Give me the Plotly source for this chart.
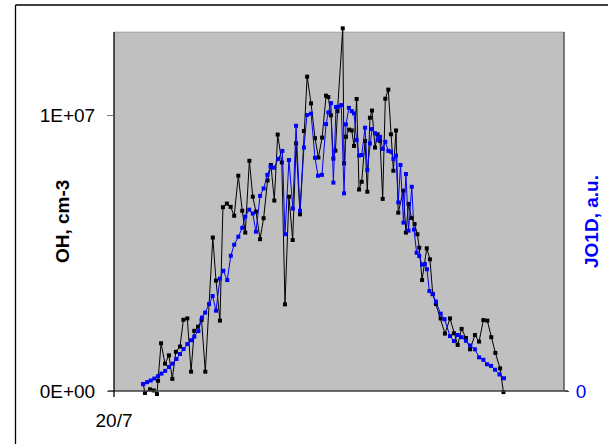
import plotly.graph_objects as go

# Time of day on 20/7 (hours)
oh_time = [1.56, 1.65, 1.92, 2.12, 2.29, 2.35, 2.51, 2.72, 2.93, 3.11, 3.30, 3.52, 3.70, 3.91,
           4.11, 4.28, 4.48, 4.67, 4.87, 5.27, 5.44, 5.65, 5.81, 6.02, 6.22, 6.41, 6.63, 6.84,
           7.00, 7.22, 7.40, 7.57, 7.79, 7.98, 8.19, 8.37, 8.55, 8.73, 8.95, 9.12, 9.33, 9.53,
           9.71, 9.92, 10.13, 10.30, 10.51, 10.72, 10.90, 11.10, 11.31, 11.43, 11.57, 11.70,
           11.81, 11.92, 12.20, 12.27, 12.37, 12.54, 12.68, 12.80, 12.94, 13.07, 13.21, 13.39,
           13.51, 13.65, 13.76, 13.92, 14.06, 14.19, 14.33, 14.47, 14.63, 14.77, 14.90, 15.04,
           15.16, 15.43, 15.57, 15.71, 15.87, 16.03, 16.18, 16.28, 16.43, 16.68, 16.85, 17.00,
           17.17, 17.42, 17.65, 17.92, 18.13, 18.33, 18.54, 18.77, 18.99, 19.25, 19.47, 19.70,
           19.91, 20.12, 20.34, 20.59, 20.77]
# OH concentration, 10^6 cm-3
oh_1e6 = [0.25, -0.07, 0.06, 0.02, -0.11, 0.37, 1.73, 0.99, 1.29, 0.44, 1.42, 1.61, 2.58, 2.63,
          0.70, 2.18, 2.33, 2.57, 0.70, 5.56, 4.00, 2.55, 6.66, 6.79, 6.67, 6.35, 7.80, 6.53,
          5.74, 8.34, 7.04, 6.50, 5.50, 6.26, 7.63, 8.19, 6.90, 9.29, 8.28, 3.14, 7.04, 5.47,
          8.97, 6.40, 9.42, 11.39, 10.42, 9.16, 8.46, 9.18, 10.70, 10.65, 9.99, 8.42,
          8.71, 10.14, 13.14, 8.25, 9.21, 9.47, 9.44, 8.88, 10.58, 7.30, 7.58, 9.06,
          7.22, 9.90, 10.16, 8.82, 9.30, 9.06, 6.96, 10.59, 10.92, 9.30, 7.98, 9.44,
          6.46, 7.26, 5.74, 6.78, 6.27, 6.05, 5.68, 5.19, 4.02, 5.17, 4.77, 3.51,
          3.15, 2.63, 2.08, 2.63, 2.09, 1.67, 2.25, 1.92, 1.51, 2.03, 1.79, 2.57,
          2.55, 1.95, 1.38, 0.82, -0.04]

jo1d_time = [1.55, 1.76, 1.96, 2.15, 2.35, 2.53, 2.73, 2.93, 3.12, 3.33, 3.52, 3.71, 3.91, 4.11,
             4.28, 4.50, 4.69, 4.86, 5.07, 5.26, 5.44, 5.65, 5.83, 6.04, 6.23, 6.41, 6.63, 6.84,
             7.00, 7.21, 7.40, 7.57, 7.79, 7.98, 8.18, 8.35, 8.53, 8.76, 8.98, 9.12, 9.33, 9.54,
             9.71, 9.92, 10.13, 10.29, 10.51, 10.72, 10.88, 11.09, 11.31, 11.43, 11.57, 11.70,
             11.84, 11.97, 12.12, 12.27, 12.37, 12.53, 12.68, 12.80, 12.94, 13.07, 13.21, 13.39,
             13.51, 13.65, 13.76, 13.92, 14.06, 14.19, 14.33, 14.47, 14.63, 14.77, 14.90, 15.04,
             15.16, 15.28, 15.44, 15.57, 15.71, 15.88, 16.00, 16.14, 16.28, 16.43, 16.58, 16.69,
             16.82, 17.00, 17.17, 17.42, 17.63, 17.92, 18.13, 18.33, 18.54, 18.77, 19.00, 19.25,
             19.47, 19.70, 19.89, 20.11, 20.32, 20.56, 20.80]
# J(O1D), arbitrary units
jo1d_au = [0.25, 0.32, 0.38, 0.45, 0.54, 0.63, 0.73, 0.87, 0.99, 1.16, 1.34, 1.52, 1.70, 1.84,
           1.97, 2.17, 2.66, 2.84, 3.15, 3.44, 2.91, 4.07, 4.36, 4.02, 4.90, 5.30, 5.59, 5.91,
           6.32, 6.57, 6.43, 5.77, 7.07, 7.34, 7.83, 8.13, 8.09, 8.41, 8.70, 5.68, 8.37, 6.61,
           9.61, 6.53, 8.82, 10.00, 10.05, 8.45, 7.80, 7.83, 9.67, 10.09, 10.43, 7.55,
           10.29, 10.30, 10.36, 7.16, 9.66, 10.26, 10.14, 10.06, 9.09, 8.53, 8.55, 9.54,
           8.01, 8.97, 9.49, 9.34, 9.09, 9.21, 8.77, 9.03, 8.70, 8.67, 8.41, 8.53,
           6.83, 8.19, 6.10, 7.86, 5.81, 7.40, 5.85, 5.01, 4.89, 4.58, 4.60, 4.41,
           3.62, 3.51, 3.24, 2.80, 2.60, 1.99, 1.81, 2.03, 1.95, 1.82, 1.65, 1.51,
           1.22, 1.13, 0.97, 0.91, 0.77, 0.60, 0.46]

x_ticks = [0]
x_tick_labels = ["20/7"]
oh_ticks = [0, 1e7]
oh_tick_labels = ["0E+00", "1E+07"]
jo1d_ticks = [0]
jo1d_tick_labels = ["0"]

OH_UNIT = 1e6
oh = [v * OH_UNIT for v in oh_1e6]

# Figure geometry (pixels)
W, H = 608, 444
L, R, T, B = 114, 564, 26, 398
PX_PER_UNIT = 27.6          # pixels per 10^6 cm-3
ZERO_PX = 391               # pixel row of the zero line
y_hi = (ZERO_PX - T) / PX_PER_UNIT
y_lo = (ZERO_PX - B) / PX_PER_UNIT
BG_TOP = 13.0               # top of the grey plot area, 10^6 units

def px(xp):
    return (xp - L) / (R - L)

def py(yp):
    return (B - yp) / (B - T)

FONT = "Liberation Sans, Arial, sans-serif"
BLUE = "#0000FF"
FS = 19

fig = go.Figure()
fig.add_trace(go.Scatter(
    x=oh_time, y=oh, mode="lines+markers", name="OH",
    line=dict(color="black", width=1),
    marker=dict(symbol="square", size=4, color="black"),
    cliponaxis=False, yaxis="y"))
fig.add_trace(go.Scatter(
    x=jo1d_time, y=jo1d_au, mode="lines+markers", name="JO1D",
    line=dict(color=BLUE, width=1),
    marker=dict(symbol="square", size=4, color=BLUE),
    cliponaxis=False, yaxis="y2"))

shapes = [
    # grey plot area
    dict(type="rect", xref="paper", yref="y", x0=0, x1=1, y0=0, y1=BG_TOP * OH_UNIT,
         fillcolor="#C0C0C0", line=dict(width=0), layer="below"),
    dict(type="line", xref="paper", yref="y", x0=0, x1=1, y0=BG_TOP * OH_UNIT, y1=BG_TOP * OH_UNIT,
         line=dict(color="#9A9A9A", width=1), layer="below"),
    # category axis along zero
    dict(type="line", xref="paper", yref="y", x0=px(108), x1=px(568), y0=0, y1=0,
         line=dict(color="#404040", width=1.3)),
    # value axes
    dict(type="line", xref="paper", yref="paper", x0=0, x1=0, y0=py(397), y1=py(32),
         line=dict(color="black", width=1.3)),
    dict(type="line", xref="paper", yref="paper", x0=1, x1=1, y0=py(391), y1=py(32),
         line=dict(color="#404040", width=1.3)),
    # chart frame
    dict(type="line", xref="paper", yref="paper", x0=px(15.5), x1=px(15.5), y0=py(444), y1=py(5),
         line=dict(color="black", width=1.3)),
    dict(type="line", xref="paper", yref="paper", x0=px(15.5), x1=px(608), y0=py(5), y1=py(5),
         line=dict(color="black", width=1.3)),
]

annotations = [
    dict(text="<b>OH, cm-3</b>", xref="paper", yref="paper", x=px(62), y=py(222),
         xanchor="center", yanchor="middle", textangle=-90, showarrow=False,
         font=dict(family=FONT, size=FS, color="black")),
    dict(text="<b>JO1D, a.u.</b>", xref="paper", yref="paper", x=px(591), y=py(222),
         xanchor="center", yanchor="middle", textangle=-90, showarrow=False,
         font=dict(family=FONT, size=FS, color=BLUE)),
]

fig.update_layout(
    width=W, height=H,
    margin=dict(l=L, r=W - R, t=T, b=H - B, pad=0),
    paper_bgcolor="white", plot_bgcolor="white",
    showlegend=False,
    font=dict(family=FONT, size=FS, color="black"),
    xaxis=dict(range=[0, 24], tickvals=x_ticks, ticktext=x_tick_labels,
               showgrid=False, zeroline=False, showline=False, ticks="",
               ticklabelstandoff=9, tickfont=dict(size=FS)),
    yaxis=dict(range=[y_lo * OH_UNIT, y_hi * OH_UNIT], tickvals=oh_ticks, ticktext=oh_tick_labels,
               showgrid=False, zeroline=False, showline=False,
               ticks="outside", ticklen=6, tickcolor="#808080", tickwidth=1.3,
               ticklabelstandoff=8, tickfont=dict(size=FS)),
    yaxis2=dict(range=[y_lo, y_hi], overlaying="y", side="right",
                tickvals=jo1d_ticks, ticktext=jo1d_tick_labels,
                showgrid=False, zeroline=False, showline=False,
                ticks="outside", ticklen=4, tickcolor="#404040", tickwidth=1.3,
                ticklabelstandoff=3, tickfont=dict(size=FS, color=BLUE)),
    shapes=shapes, annotations=annotations,
)

fig.write_html("out.html")
